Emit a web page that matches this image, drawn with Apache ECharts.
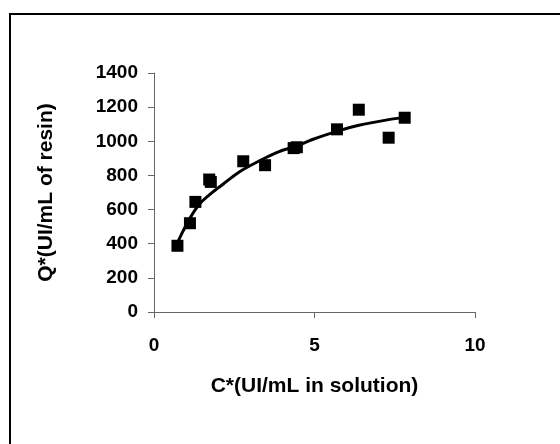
<!DOCTYPE html>
<html lang="en">
<head>
    <meta charset="UTF-8">
    <title>Isotherm</title>
    <script src="https://cdn.jsdelivr.net/npm/echarts@6/dist/echarts.min.js"></script>
    <style>
        html, body { margin: 0; padding: 0; background: #fff; }
        #chart { width: 560px; height: 444px; }
    </style>
</head>
<body>
<div id="chart"></div>
<script type="text/javascript">
    // measured points (C*, Q*)
    var pointC = [0.73, 1.12, 1.29, 1.72, 1.77, 2.78, 3.46, 4.35, 4.45, 5.70, 6.38, 7.31, 7.81]
    var pointQ = [388, 520, 645, 776, 762, 883, 860, 960, 965, 1070, 1185, 1021, 1138]

    // fitted curve
    var curveC = [0.73, 0.9, 1.12, 1.43, 1.8, 2.16, 2.5, 2.78, 3.46, 3.9, 4.41, 4.96, 5.70, 6.38, 7.31, 7.81]
    var curveQ = [405, 472, 550, 635, 698, 750, 800, 835, 902, 940, 970, 1012, 1058, 1094, 1127, 1140]

    var xTicks = [0, 5, 10]
    var yTicks = [0, 200, 400, 600, 800, 1000, 1200, 1400]

    var points = []
    for (let i = 0; i < pointC.length; i++) {
        points.push([pointC[i], pointQ[i]])
    }
    var curve = []
    for (let i = 0; i < curveC.length; i++) {
        curve.push([curveC[i], curveQ[i]])
    }

    var chart = echarts.init(document.getElementById("chart"))

    var labelFont = {
        fontFamily: 'Liberation Sans, Arial, sans-serif',
        fontWeight: 'bold',
        fontSize: 19,
        color: '#000'
    }

    var option = {
        animation: false,
        backgroundColor: '#fff',
        graphic: [{
            type: 'rect',
            shape: { x: 10, y: 14, width: 600, height: 500 },
            style: { fill: 'none', stroke: '#000', lineWidth: 2 }
        }],
        grid: {
            left: 154,
            top: 73,
            width: 321,
            height: 239
        },
        xAxis: {
            type: 'value',
            min: xTicks[0],
            max: xTicks[xTicks.length - 1],
            interval: 5,
            name: 'C*(UI/mL in solution)',
            nameLocation: 'middle',
            nameGap: 64,
            nameTextStyle: Object.assign({}, labelFont, { fontSize: 21 }),
            axisLine: { lineStyle: { color: '#666', width: 1 } },
            axisTick: { show: true, length: 6, lineStyle: { color: '#666' } },
            axisLabel: Object.assign({ margin: 24 }, labelFont),
            splitLine: { show: false }
        },
        yAxis: {
            type: 'value',
            min: yTicks[0],
            max: yTicks[yTicks.length - 1],
            interval: 200,
            name: 'Q*(UI/mL of resin)',
            nameLocation: 'middle',
            nameGap: 97,
            nameTextStyle: Object.assign({}, labelFont, { fontSize: 21 }),
            axisLine: { show: true, lineStyle: { color: '#666', width: 1 } },
            axisTick: { show: true, length: 6, lineStyle: { color: '#666' } },
            axisLabel: Object.assign({
                margin: 16,
                formatter: function (v) { return String(v) }
            }, labelFont),
            splitLine: { show: false }
        },
        series: [
            {
                type: 'line',
                data: curve,
                smooth: 0.3,
                showSymbol: false,
                lineStyle: { color: '#000', width: 3 },
                z: 2
            },
            {
                type: 'scatter',
                data: points,
                symbol: 'rect',
                symbolSize: 12,
                itemStyle: { color: '#000', opacity: 1 },
                z: 3
            }
        ]
    }

    chart.setOption(option)
</script>
</body>
</html>
